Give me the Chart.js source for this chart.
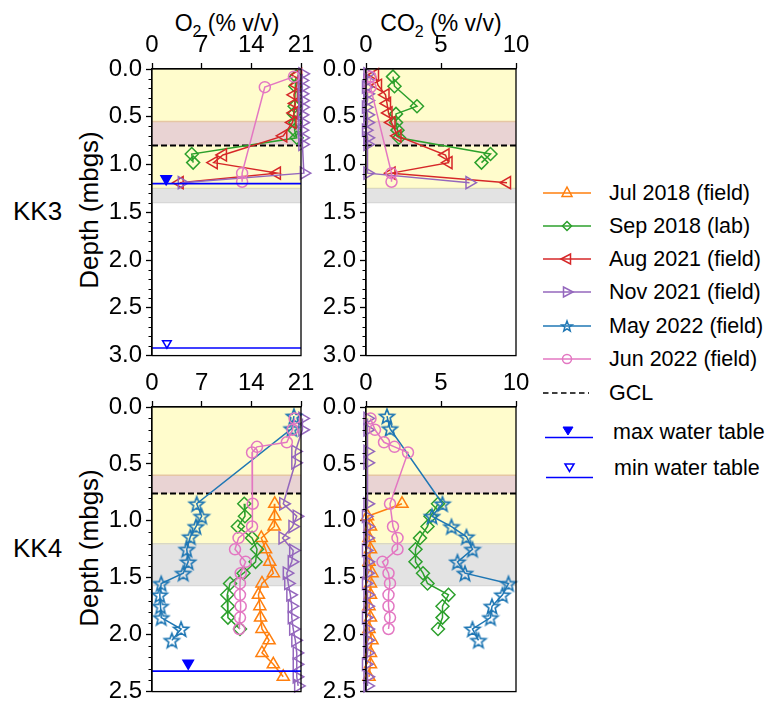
<!DOCTYPE html>
<html>
<head>
<meta charset="utf-8">
<script src="https://cdn.jsdelivr.net/npm/chart.js@4.4.1/dist/chart.umd.min.js"></script>
<style>
  body { margin: 0; background: #fff; }
  #page { position: relative; width: 772px; height: 706px; overflow: hidden;
          font-family: 'Liberation Sans', Arial, sans-serif; color: #000; }
  #page canvas { position: absolute; }
  .ttl { position: absolute; width: 200px; text-align: center; white-space: nowrap; font-size: 23px; line-height: 24px; }
  .ttl sub { font-size: 16px; line-height: 0; vertical-align: -6px; }
  .site { position: absolute; white-space: nowrap; font-size: 26px; line-height: 26px; }
  .ylab { position: absolute; width: 220px; text-align: center; font-size: 26px; line-height: 26px;
          transform: rotate(-90deg); white-space: nowrap; }
  .leg { position: absolute; left: 543px; height: 24px; }
  .leg svg { position: absolute; left: 0; top: 0; }
  .leg span { position: absolute; left: 66px; top: 0; font-size: 21.5px; line-height: 24px; white-space: nowrap; }
</style>
</head>
<body>
<div id="page">
  <div class="ttl" style="left:127px;top:11px;">O<sub>2</sub> (% v/v)</div>
  <div class="ttl" style="left:341px;top:11px;">CO<sub>2</sub> (% v/v)</div>
  <div class="site" style="left:13px;top:198px;">KK3</div>
  <div class="site" style="left:13px;top:535px;">KK4</div>
  <div class="ylab" style="left:-21px;top:197px;">Depth (mbgs)</div>
  <div class="ylab" style="left:-21px;top:535px;">Depth (mbgs)</div>
  <div id="legend"></div>
</div>
<script>
// ---------------- soil gas profiles: KK3 ----------------
const kk3Sep18Depth = [0.08, 0.18, 0.39, 0.47, 0.56, 0.64, 0.72, 0.89, 0.98];
const kk3Sep18O2    = [20.3, 20.2, 20.1, 20.0, 20.2, 20.1, 20.4, 5.6, 5.8];
const kk3Sep18CO2   = [1.8, 1.9, 3.4, 2.0, 2.0, 2.1, 2.2, 8.3, 7.7];

const kk3Aug21Depth = [0.06, 0.17, 0.27, 0.36, 0.46, 0.56, 0.70, 0.90, 0.98, 1.09, 1.19];
const kk3Aug21O2    = [20.6, 20.4, 20.0, 20.2, 20.0, 19.8, 18.5, 10.0, 8.7, 17.6, 3.9];
const kk3Aug21CO2   = [0.6, 0.8, 1.3, 1.4, 1.5, 1.7, 2.1, 5.3, 5.5, 1.7, 9.4];

const kk3Nov21Depth = [0.05, 0.12, 0.19, 0.26, 0.33, 0.40, 0.48, 0.56, 0.64, 0.72, 0.79, 1.09, 1.19];
const kk3Nov21O2    = [21.2, 21.1, 21.2, 21.1, 21.2, 21.2, 21.1, 21.2, 21.1, 21.2, 21.2, 21.4, 4.2];
const kk3Nov21CO2   = [0.1, 0.1, 0.0, 0.1, 0.1, 0.0, 0.1, 0.1, 0.0, 0.1, 0.1, 0.1, 6.9];

const kk3Jun22Depth = [0.08, 0.19, 1.09, 1.18];
const kk3Jun22O2    = [20.0, 15.9, 12.7, 12.7];
const kk3Jun22CO2   = [0.3, 0.3, 1.7, 1.7];

// ---------------- soil gas profiles: KK4 ----------------
const kk4Jul18Depth = [0.85, 0.96, 1.05, 1.15, 1.25, 1.36, 1.46, 1.55, 1.65, 1.75, 1.85, 1.95, 2.05, 2.16, 2.26, 2.37];
const kk4Jul18O2    = [17.3, 17.3, 17.2, 15.4, 16.0, 16.6, 17.1, 15.5, 15.0, 15.2, 15.3, 15.5, 16.5, 15.5, 17.1, 18.5];
const kk4Jul18CO2   = [2.4, 0.1, 0.3, 0.2, 0.3, 0.2, 0.4, 0.3, 0.3, 0.2, 0.3, 0.2, 0.4, 0.3, 0.3, 0.2];

const kk4Sep18Depth = [0.85, 0.96, 1.05, 1.15, 1.25, 1.36, 1.46, 1.55, 1.65, 1.75, 1.85, 1.95];
const kk4Sep18O2    = [13.0, 13.1, 12.1, 14.1, 14.8, 14.6, 12.9, 11.0, 10.6, 10.7, 10.7, 12.4];
const kk4Sep18CO2   = [4.8, 4.3, 4.1, 3.6, 3.3, 3.3, 3.8, 4.1, 5.5, 5.1, 5.1, 4.8];

const kk4Nov21Depth = [0.10, 0.20, 0.39, 0.49, 0.85, 0.96, 1.05, 1.15, 1.26, 1.36, 1.46, 1.55, 1.65, 1.75, 1.85, 1.95, 2.05, 2.16, 2.26, 2.37, 2.45];
const kk4Nov21O2    = [21.2, 21.2, 20.2, 20.2, 18.5, 20.4, 19.8, 18.4, 19.9, 19.7, 19.0, 19.2, 19.5, 19.7, 19.7, 19.9, 20.2, 20.4, 20.4, 20.4, 20.6];
const kk4Nov21CO2   = [0.1, 0.1, 0.1, 0.1, 0.1, 0.0, 0.1, 0.1, 0.0, 0.1, 0.1, 0.0, 0.1, 0.1, 0.0, 0.1, 0.1, 0.1, 0.0, 0.1, 0.1];

const kk4May22Depth = [0.08, 0.19, 0.85, 0.96, 1.05, 1.14, 1.25, 1.36, 1.46, 1.55, 1.65, 1.75, 1.85, 1.95, 2.05];
const kk4May22O2    = [20.0, 19.7, 6.3, 7.0, 6.2, 5.4, 4.9, 5.1, 4.4, 1.3, 1.1, 1.2, 1.3, 4.1, 2.8];
const kk4May22CO2   = [1.4, 1.6, 5.1, 4.4, 5.7, 6.7, 7.1, 6.1, 6.6, 9.5, 9.1, 8.4, 8.3, 7.1, 7.5];

const kk4Jun22Depth = [0.10, 0.20, 0.31, 0.35, 0.40, 0.85, 1.05, 1.15, 1.25, 1.36, 1.46, 1.55, 1.65, 1.75, 1.85, 1.95];
const kk4Jun22O2    = [20.1, 19.8, 19.0, 14.8, 14.1, 14.2, 14.1, 12.2, 11.7, 13.2, 12.5, 12.4, 12.4, 12.5, 12.4, 12.3];
const kk4Jun22CO2   = [0.3, 0.6, 1.2, 1.9, 2.8, 1.6, 1.8, 2.1, 2.1, 1.1, 1.5, 1.6, 1.5, 1.5, 1.6, 1.5];

// ---------------- layers, GCL and water table ----------------
const kk3CoverZone = [0.00, 1.25];
const kk3ClayZone  = [0.55, 0.80];
const kk3WasteZone = [1.25, 1.40];
const kk4CoverZone = [0.00, 1.20];
const kk4ClayZone  = [0.60, 0.76];
const kk4WasteZone = [1.20, 1.57];
const gclDepth     = [0.80, 0.76];          // KK3, KK4

const kk3WaterDepth = [1.20, 2.92];         // max, min
const kk3WaterMarkX = [2.0, 2.1];
const kk3WaterMarkY = [1.15, 2.87];
const kk4WaterDepth = [2.32];               // max
const kk4WaterMarkX = [5.1];
const kk4WaterMarkY = [2.25];

// ---------------- axes ----------------
const o2Ticks  = [0, 7, 14, 21];
const co2Ticks = [0, 5, 10];
const kk3DepthMax = 3.0;
const kk4DepthMax = 2.5;

const seriesLabels = ['Jul 2018 (field)', 'Sep 2018 (lab)', 'Aug 2021 (field)',
                      'Nov 2021 (field)', 'May 2022 (field)', 'Jun 2022 (field)'];

// ---------------- styling ----------------
const FONT = "'Liberation Sans', Arial, sans-serif";
const TICK_SIZE = 24;
const COLORS = ['#ff7f0e', '#2ca02c', '#d62728', '#9467bd', '#1f77b4', '#e377c2'];
const WT_BLUE = '#0000ff';

function starCanvas(color) {
  const c = document.createElement('canvas');
  c.width = 20; c.height = 20;
  const g = c.getContext('2d');
  g.beginPath();
  for (let k = 0; k < 10; k++) {
    const r = k % 2 === 0 ? 7.8 : 3.3;
    const a = -Math.PI / 2 + k * Math.PI / 5;
    const px = 10 + r * Math.cos(a), py = 10.8 + r * Math.sin(a);
    if (k === 0) g.moveTo(px, py); else g.lineTo(px, py);
  }
  g.closePath();
  g.strokeStyle = color; g.lineWidth = 1.6; g.lineJoin = 'miter';
  g.stroke();
  return c;
}

const MARKERS = [
  { style: 'triangle', rot: 0,   r: 7 },
  { style: 'rectRot',  rot: 0,   r: 6.5 },
  { style: 'triangle', rot: 270, r: 7 },
  { style: 'triangle', rot: 90,  r: 7 },
  { style: starCanvas(COLORS[4]), rot: 0, r: 8 },
  { style: 'circle',   rot: 0,   r: 5.5 }
];

const YW = 62, XH = 44, RP = 18, BP = 18;
const page = document.getElementById('page');

function profile(idx, depth, values) {
  const m = MARKERS[idx];
  return {
    label: seriesLabels[idx],
    data: depth.map((d, i) => ({ x: values[i], y: d })),
    showLine: true,
    borderColor: COLORS[idx],
    borderWidth: 1.5,
    pointStyle: m.style,
    pointRotation: m.rot,
    rotation: m.rot,
    pointRadius: m.r,
    pointBorderColor: COLORS[idx],
    pointBackgroundColor: 'rgba(0,0,0,0)',
    pointBorderWidth: 1.5,
    clip: false,
    order: 10 - idx
  };
}

function hLine(depth, xMax, color, width, dash, order) {
  return {
    data: [{ x: 0, y: depth }, { x: xMax, y: depth }],
    showLine: true, borderColor: color, borderWidth: width, borderDash: dash,
    pointRadius: 0, clip: false, order: order
  };
}

function waterMarks(xs, ys, filled) {
  return {
    data: xs.map((x, i) => ({ x: x, y: ys[i] })),
    showLine: false, pointStyle: 'triangle', pointRotation: 180, rotation: 180,
    pointRadius: filled ? 6 : 5,
    pointBorderColor: WT_BLUE, pointBorderWidth: 1.5,
    pointBackgroundColor: filled ? WT_BLUE : 'rgba(0,0,0,0)',
    clip: false, order: 0
  };
}

// background layers, frame and minor depth ticks
const panelDecor = {
  id: 'panelDecor',
  beforeDatasetsDraw(chart, args, opts) {
    const ctx = chart.ctx, a = chart.chartArea, y = chart.scales.y;
    const band = (z, fill) => {
      const t = y.getPixelForValue(z[0]), b = y.getPixelForValue(z[1]);
      ctx.fillStyle = fill;
      ctx.fillRect(a.left, t, a.right - a.left, b - t);
    };
    const edge = (d, color, w) => {
      const p = y.getPixelForValue(d);
      ctx.strokeStyle = color; ctx.lineWidth = w;
      ctx.beginPath(); ctx.moveTo(a.left, p); ctx.lineTo(a.right, p); ctx.stroke();
    };
    ctx.save();
    band(opts.cover, '#fffccc');
    band(opts.clay, '#e9d3d3');
    band(opts.waste, '#e3e3e3');
    edge(opts.cover[1], '#ece6a6', 1.2);
    edge(opts.clay[0], '#e6c6a4', 1.5);
    edge(opts.waste[0], '#d6d6c8', 1);
    edge(opts.waste[1], '#d2d2d2', 1);
    ctx.restore();
  },
  afterDraw(chart) {
    const ctx = chart.ctx, a = chart.chartArea, y = chart.scales.y;
    ctx.save();
    ctx.strokeStyle = '#000'; ctx.lineWidth = 1.3;
    ctx.strokeRect(a.left, a.top, a.right - a.left, a.bottom - a.top);
    ctx.lineWidth = 1;
    ctx.beginPath();
    const n = Math.round(y.max * 10);
    for (let k = 1; k < n; k++) {
      if (k % 5 === 0) continue;
      const p = Math.round(y.getPixelForValue(k / 10)) + 0.5;
      ctx.moveTo(a.left - 3.5, p); ctx.lineTo(a.left, p);
    }
    ctx.stroke();
    ctx.restore();
  }
};

function makePanel(box, xTicks, yMax, zones, datasets) {
  const cv = document.createElement('canvas');
  cv.width = YW + box.w + RP;
  cv.height = XH + box.h + BP;
  cv.style.left = (box.x - YW) + 'px';
  cv.style.top = (box.y - XH) + 'px';
  page.appendChild(cv);
  const tickFont = { family: FONT, size: TICK_SIZE };
  new Chart(cv, {
    type: 'scatter',
    data: { datasets: datasets },
    plugins: [panelDecor],
    options: {
      responsive: false, animation: false, devicePixelRatio: 1,
      events: [],
      layout: { padding: { left: 0, top: 0, right: RP, bottom: BP } },
      plugins: { legend: { display: false }, tooltip: { enabled: false }, panelDecor: zones },
      scales: {
        x: {
          type: 'linear', position: 'top',
          min: xTicks[0], max: xTicks[xTicks.length - 1],
          afterBuildTicks: s => { s.ticks = xTicks.map(v => ({ value: v })); },
          ticks: { color: '#000', font: tickFont, padding: 3, maxRotation: 0, autoSkip: false },
          grid: { drawOnChartArea: false, drawTicks: true, tickLength: 6, tickColor: '#000', tickWidth: 1.3 },
          border: { display: true, color: '#000', width: 1.3 },
          afterFit: s => { s.height = XH; }
        },
        y: {
          type: 'linear', reverse: true, min: 0, max: yMax,
          ticks: { stepSize: 0.5, color: '#000', font: tickFont, padding: 4,
                   callback: v => Number(v).toFixed(1) },
          grid: { drawOnChartArea: false, drawTicks: true, tickLength: 6, tickColor: '#000', tickWidth: 1.3 },
          border: { display: true, color: '#000', width: 1.3 },
          afterFit: s => { s.width = YW; }
        }
      }
    }
  });
}

const kk3Zones = { cover: kk3CoverZone, clay: kk3ClayZone, waste: kk3WasteZone };
const kk4Zones = { cover: kk4CoverZone, clay: kk4ClayZone, waste: kk4WasteZone };
const o2Max = o2Ticks[o2Ticks.length - 1];
const co2Max = co2Ticks[co2Ticks.length - 1];

// KK3 - O2
makePanel({ x: 152, y: 69, w: 149, h: 287 }, o2Ticks, kk3DepthMax, kk3Zones, [
  hLine(gclDepth[0], o2Max, '#000', 2, [6, 3], 20),
  profile(1, kk3Sep18Depth, kk3Sep18O2),
  profile(2, kk3Aug21Depth, kk3Aug21O2),
  profile(3, kk3Nov21Depth, kk3Nov21O2),
  profile(5, kk3Jun22Depth, kk3Jun22O2),
  hLine(kk3WaterDepth[0], o2Max, WT_BLUE, 1.6, [], 1),
  hLine(kk3WaterDepth[1], o2Max, WT_BLUE, 1.6, [], 1),
  waterMarks([kk3WaterMarkX[0]], [kk3WaterMarkY[0]], true),
  waterMarks([kk3WaterMarkX[1]], [kk3WaterMarkY[1]], false)
]);

// KK3 - CO2
makePanel({ x: 366, y: 69, w: 150, h: 287 }, co2Ticks, kk3DepthMax, kk3Zones, [
  hLine(gclDepth[0], co2Max, '#000', 2, [6, 3], 20),
  profile(1, kk3Sep18Depth, kk3Sep18CO2),
  profile(2, kk3Aug21Depth, kk3Aug21CO2),
  profile(3, kk3Nov21Depth, kk3Nov21CO2),
  profile(5, kk3Jun22Depth, kk3Jun22CO2)
]);

// KK4 - O2
makePanel({ x: 152, y: 407, w: 149, h: 285 }, o2Ticks, kk4DepthMax, kk4Zones, [
  hLine(gclDepth[1], o2Max, '#000', 2, [6, 3], 20),
  profile(0, kk4Jul18Depth, kk4Jul18O2),
  profile(1, kk4Sep18Depth, kk4Sep18O2),
  profile(3, kk4Nov21Depth, kk4Nov21O2),
  profile(4, kk4May22Depth, kk4May22O2),
  profile(5, kk4Jun22Depth, kk4Jun22O2),
  hLine(kk4WaterDepth[0], o2Max, WT_BLUE, 1.6, [], 1),
  waterMarks(kk4WaterMarkX, kk4WaterMarkY, true)
]);

// KK4 - CO2
makePanel({ x: 366, y: 407, w: 150, h: 285 }, co2Ticks, kk4DepthMax, kk4Zones, [
  hLine(gclDepth[1], co2Max, '#000', 2, [6, 3], 20),
  profile(0, kk4Jul18Depth, kk4Jul18CO2),
  profile(1, kk4Sep18Depth, kk4Sep18CO2),
  profile(3, kk4Nov21Depth, kk4Nov21CO2),
  profile(4, kk4May22Depth, kk4May22CO2),
  profile(5, kk4Jun22Depth, kk4Jun22CO2)
]);

// ---------------- legend ----------------
function markerSVG(i, c) {
  const cx = 24, cy = 12;
  const st = `fill="none" stroke="${c}" stroke-width="1.5"`;
  if (i === 0) return `<polygon points="${cx},${cy - 6} ${cx - 5},${cy + 3.5} ${cx + 5},${cy + 3.5}" ${st}/>`;
  if (i === 1) return `<polygon points="${cx},${cy - 4.5} ${cx + 4.5},${cy} ${cx},${cy + 4.5} ${cx - 4.5},${cy}" ${st}/>`;
  if (i === 2) return `<polygon points="${cx - 6},${cy} ${cx + 3.5},${cy - 5} ${cx + 3.5},${cy + 5}" ${st}/>`;
  if (i === 3) return `<polygon points="${cx + 6},${cy} ${cx - 3.5},${cy - 5} ${cx - 3.5},${cy + 5}" ${st}/>`;
  if (i === 4) {
    let p = [];
    for (let k = 0; k < 10; k++) {
      const r = k % 2 === 0 ? 5.5 : 2.3, a = -Math.PI / 2 + k * Math.PI / 5;
      p.push((cx + r * Math.cos(a)).toFixed(2) + ',' + (cy + 0.5 + r * Math.sin(a)).toFixed(2));
    }
    return `<polygon points="${p.join(' ')}" ${st}/>`;
  }
  return `<circle cx="${cx}" cy="${cy}" r="4.5" ${st}/>`;
}

const legendRowsY = [181, 214, 247, 280, 314, 347, 381];
let html = '';
seriesLabels.forEach((lab, i) => {
  html += `<div class="leg" style="top:${legendRowsY[i]}px;">
    <svg width="56" height="24"><line x1="0" y1="12" x2="48" y2="12" stroke="${COLORS[i]}" stroke-width="1.5"/>${markerSVG(i, COLORS[i])}</svg>
    <span>${lab}</span></div>`;
});
html += `<div class="leg" style="top:${legendRowsY[6]}px;">
  <svg width="56" height="24"><line x1="0" y1="12" x2="46" y2="12" stroke="#000" stroke-width="1.5" stroke-dasharray="5.5,3.5"/></svg>
  <span>GCL</span></div>`;
html += `<div class="leg" style="top:420px;">
  <svg width="56" height="30"><line x1="2" y1="17.5" x2="50" y2="17.5" stroke="${WT_BLUE}" stroke-width="1.6"/>
  <polygon points="20,7 30,7 25,15" fill="${WT_BLUE}" stroke="${WT_BLUE}" stroke-width="1"/></svg>
  <span style="left:70px;">max water table</span></div>`;
html += `<div class="leg" style="top:456px;">
  <svg width="56" height="30"><line x1="3" y1="21.5" x2="50" y2="21.5" stroke="${WT_BLUE}" stroke-width="1.6"/>
  <polygon points="22,8 31,8 26.5,15.5" fill="none" stroke="${WT_BLUE}" stroke-width="1.5"/></svg>
  <span style="left:71px;">min water table</span></div>`;
document.getElementById('legend').innerHTML = html;
</script>
</body>
</html>
